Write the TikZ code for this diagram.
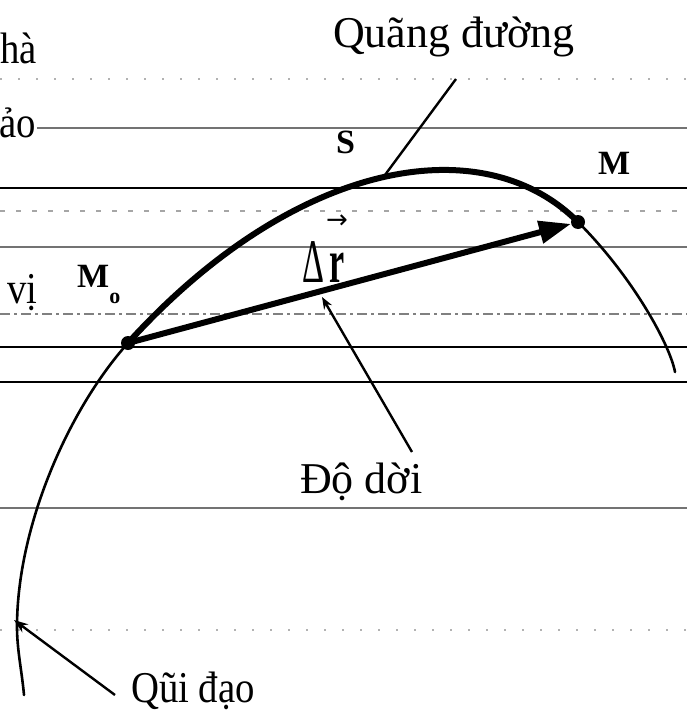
\documentclass[tikz,border=0pt]{standalone}
\usepackage{fontspec}
\setmainfont{Liberation Serif}
\newfontfamily\labfont{Liberation Serif}
\newfontfamily\narrowfont[FakeStretch=0.88]{Liberation Serif}
\newfontfamily\symfont{DejaVu Sans}
\usetikzlibrary{arrows.meta}
\begin{document}
\begin{tikzpicture}[x=1pt,y=-1pt,
  blackrule/.style={line width=1.4pt, draw=black},
  grayrule/.style={line width=1.4pt, draw=black!55},
  dashrule/.style={line width=1.3pt, draw=black!50, dash pattern=on 10pt off 4pt on 3pt off 4pt},
  dotrule/.style={line width=1.2pt, draw=black!30, dash pattern=on 2pt off 16pt},
  lab/.style={inner sep=0pt, font=\labfont\fontsize{44}{48}\selectfont},
  narrowlab/.style={inner sep=0pt, font=\narrowfont\fontsize{44}{48}\selectfont},
  ptlab/.style={inner sep=0pt, font=\bfseries\fontsize{34}{36}\selectfont},
  traj/.style={line width=2.6pt, line cap=round},
  thickarc/.style={line width=6pt, line cap=round},
  pointer/.style={line width=2.4pt},
  dotnode/.style={circle, fill=black, inner sep=0pt, minimum size=14pt},
]
\useasboundingbox (0,0) rectangle (687,720);
\clip (0,0) rectangle (687,720);

% ruled lines of the page
\draw[dotrule] (0,79) -- (687,79);
\draw[grayrule] (37,128) -- (687,128);
\draw[blackrule] (0,188) -- (687,188);
\draw[dotrule, draw=black!35, dash pattern=on 5pt off 11pt] (0,211) -- (687,211);
\draw[grayrule] (0,247) -- (687,247);
\draw[dashrule] (0,314) -- (687,314);
\draw[blackrule] (0,347) -- (687,347);
\draw[blackrule] (0,382) -- (687,382);
\draw[grayrule] (0,508) -- (687,508);
\draw[dotrule] (0,630) -- (687,630);

% page text at the left edge
\node[narrowlab, anchor=base west] (t1) at (0,63) {hà};
\node[narrowlab, anchor=base east] (t2) at (36,137) {ảo};
\node[narrowlab, anchor=base west] (t3) at (7,303) {vị};

% points
\coordinate (tA) at (24,695);
\coordinate (tL) at (17,627);
\coordinate (tE) at (675,372);
\node[dotnode] (M0) at (128,343) {};
\node[dotnode] (M) at (578,222) {};

% trajectory
\draw[traj] (tA) .. controls (22,672) and (17,650) .. (tL)
  .. controls (17,527) and (68,410) .. (M0.center)
  .. controls (295,159) and (483,127) .. (M.center)
  .. controls (633,277) and (670,345) .. (tE);
% path length s
\draw[thickarc] (M0.center) .. controls (295,159) and (483,127) .. (M.center);

% displacement vector
\draw[line width=6pt, -{Triangle[length=32pt,width=22pt]}] (M0.center) -- (M);

% labels
\node[lab, anchor=base west] (qd) at (333,47) {Quãng đường};
\node[lab, anchor=base west] (dd) at (300,493) {Độ dời};
\node[narrowlab, anchor=base west] (qdao) at (131,702) {Qũi đạo};
\node[ptlab, anchor=base west] (S) at (336,153) {S};
\node[ptlab, anchor=base west] (Mlab) at (598,174) {M};
\node[ptlab, anchor=base west] (M0lab) at (77,287) {M\raisebox{-16pt}{\fontsize{22}{22}\selectfont o}};
\node[inner sep=0pt, anchor=base west] (dr) at (302,282) {\scalebox{0.55}[1]{\fontsize{62}{62}\selectfont Δ\kern 10pt\bfseries r}};
\node[inner sep=0pt] (vec) at (337,222) {\symfont\fontsize{26}{26}\selectfont →};

% pointers
\coordinate (qdA) at (456,79);
\coordinate (qdB) at (382,179);
\draw[pointer] (qdA) -- (qdB);
\coordinate (ddA) at (412,452);
\coordinate (ddB) at (322,297);
\draw[pointer, -{Stealth[length=12pt,width=9pt]}] (ddA) -- (ddB);
\coordinate (qoA) at (115,695);
\coordinate (qoB) at (14,620);
\draw[pointer, -{Stealth[length=14pt,width=10pt]}] (qoA) -- (qoB);
\end{tikzpicture}
\end{document}
